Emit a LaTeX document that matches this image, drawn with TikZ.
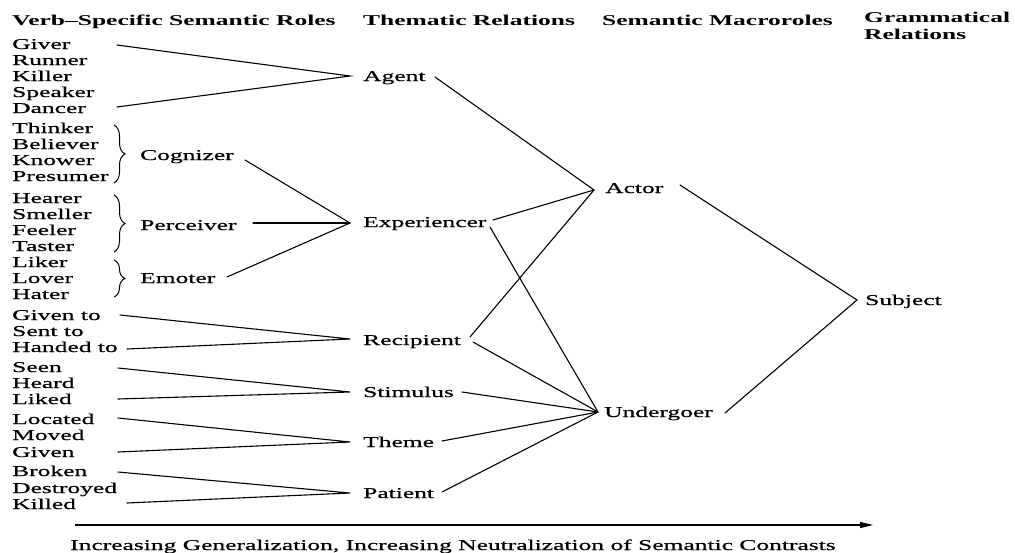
\documentclass[tikz,border=0pt]{standalone}
\usepackage{fontspec}
\setmainfont{Liberation Serif}[FakeStretch=1.7]
\newfontfamily\itemfont{Liberation Serif}[FakeStretch=1.7, FakeBold=0.6]
\usetikzlibrary{arrows.meta,decorations.pathreplacing}
\begin{document}
\begin{tikzpicture}[x=1pt,y=-1pt,
  font=\fontsize{15}{16.5}\selectfont\itemfont,
  lbl/.style={anchor=west, inner sep=0pt, text height=10pt, text depth=0pt},
  head/.style={anchor=west, inner sep=0pt, text height=10pt, text depth=0pt, font=\fontsize{15}{16.5}\selectfont\rmfamily\bfseries},
  lk/.style={line width=1.1pt, line cap=round},
  brc/.style={line width=1pt, decorate, decoration={brace, amplitude=11pt, aspect=0.5}}]
\useasboundingbox (0,0) rectangle (1015,552);

% headings
\node[head] (h1) at (12,20) {Verb–Specific Semantic Roles};
\node[head] (h2) at (363,20) {Thematic Relations};
\node[head] (h3) at (602,20) {Semantic Macroroles};
\node[head, anchor=north west, align=left, text height=, text depth=] (h4) at (864,12) {Grammatical\\Relations};

% verb-specific roles
\foreach \n/\t/\y in {giver/Giver/44, runner/Runner/60, killer/Killer/76, speaker/Speaker/92, dancer/Dancer/108,
  thinker/Thinker/128, believer/Believer/144, knower/Knower/160, presumer/Presumer/176,
  hearer/Hearer/198, smeller/Smeller/214, feeler/Feeler/230, taster/Taster/246,
  liker/Liker/262, lover/Lover/278, hater/Hater/294,
  givento/Given to/315, sentto/Sent to/331, handedto/Handed to/347,
  seen/Seen/367, heard/Heard/383, liked/Liked/399,
  located/Located/419, moved/Moved/435, given/Given/452,
  broken/Broken/471, destroyed/Destroyed/488, killed/Killed/504}
  \node[lbl] (\n) at (12,\y) {\t};

% intermediate roles
\node[lbl] (cog) at (140,155) {Cognizer};
\node[lbl] (perc) at (140,225) {Perceiver};
\node[lbl] (emo) at (140,278) {Emoter};

% braces
\draw[brc] (114,125) -- (114,183);
\draw[brc] (114,195) -- (114,252);
\draw[brc] (114,260) -- (114,297);

% thematic relations
\node[lbl] (agent) at (363,76) {Agent};
\node[lbl] (exp) at (363,222) {Experiencer};
\node[lbl] (recip) at (363,340) {Recipient};
\node[lbl] (stim) at (363,392) {Stimulus};
\node[lbl] (theme) at (363,442) {Theme};
\node[lbl] (pat) at (363,493) {Patient};

% macroroles
\node[lbl] (actor) at (605,188) {Actor};
\node[lbl] (under) at (604,412) {Undergoer};
\node[lbl] (subj) at (865,300) {Subject};

% junction coordinates
\coordinate (jAgent) at (350,76);
\coordinate (jExp) at (350,223);
\coordinate (jRecip) at (350,339);
\coordinate (jStim) at (350,392);
\coordinate (jTheme) at (350,442);
\coordinate (jPat) at (350,493);
\coordinate (jActor) at (594,190);
\coordinate (jUnder) at (598,412);
\coordinate (jSubj) at (857,300);

% line start coordinates
\coordinate (sGiver) at (117,45);
\coordinate (sDancer) at (117,107);
\coordinate (sCog) at (245,160);
\coordinate (sPerc) at (253,223);
\coordinate (sEmo) at (227,277);
\coordinate (sGivento) at (120,315);
\coordinate (sHanded) at (127,349);
\coordinate (sSeen) at (118,368);
\coordinate (sLiked) at (118,399);
\coordinate (sLocated) at (118,418);
\coordinate (sGiven) at (118,452);
\coordinate (sBroken) at (118,472);
\coordinate (sKilled) at (127,503);
\coordinate (sAgent) at (435,77);
\coordinate (sExpA) at (493,220);
\coordinate (sExpU) at (490,227);
\coordinate (sRecA) at (470,337);
\coordinate (sRecU) at (473,342);
\coordinate (sStim) at (462,392);
\coordinate (sTheme) at (442,441);
\coordinate (sPat) at (442,492);
\coordinate (sActor) at (680,185);
\coordinate (sUnder) at (725,413);

% connectors: verb-specific -> thematic
\draw[lk] (sGiver) -- (jAgent) -- (sDancer);
\draw[lk] (sCog) -- (jExp);
\draw[lk] (sPerc) -- (jExp);
\draw[lk] (sEmo) -- (jExp);
\draw[lk] (sGivento) -- (jRecip) -- (sHanded);
\draw[lk] (sSeen) -- (jStim) -- (sLiked);
\draw[lk] (sLocated) -- (jTheme) -- (sGiven);
\draw[lk] (sBroken) -- (jPat) -- (sKilled);

% thematic -> macroroles
\draw[lk] (sAgent) -- (jActor);
\draw[lk] (sExpA) -- (jActor);
\draw[lk] (sRecA) -- (jActor);
\draw[lk] (sExpU) -- (jUnder);
\draw[lk] (sRecU) -- (jUnder);
\draw[lk] (sStim) -- (jUnder);
\draw[lk] (sTheme) -- (jUnder);
\draw[lk] (sPat) -- (jUnder);

% macroroles -> grammatical relations
\draw[lk] (sActor) -- (jSubj) -- (sUnder);

% bottom arrow and caption
\coordinate (aL) at (75,525);
\coordinate (aR) at (873,525);
\draw[line width=1.2pt, -{Triangle[length=13pt,width=6pt]}] (aL) -- (aR);
\node[lbl] (cap) at (70,545) {Increasing Generalization, Increasing Neutralization of Semantic Contrasts};
\end{tikzpicture}
\end{document}
